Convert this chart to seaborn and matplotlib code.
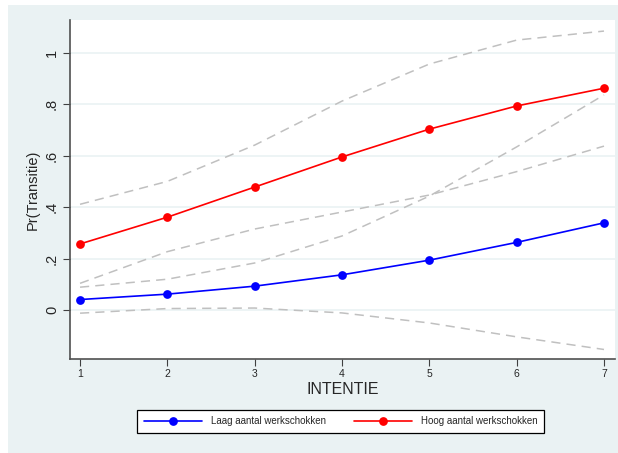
"""Predicted transition probability by intention, Stata-style margins plot."""

import matplotlib.pyplot as plt
import pandas as pd
import seaborn as sns
from matplotlib.patches import Rectangle

intentie = [1, 2, 3, 4, 5, 6, 7]

laag = [0.041, 0.062, 0.093, 0.137, 0.194, 0.263, 0.339]
laag_hi = [0.089, 0.120, 0.183, 0.288, 0.443, 0.634, 0.836]
laag_lo = [-0.012, 0.006, 0.008, -0.011, -0.050, -0.104, -0.153]

hoog = [0.257, 0.361, 0.478, 0.595, 0.703, 0.793, 0.862]
hoog_hi = [0.411, 0.500, 0.641, 0.812, 0.956, 1.049, 1.084]
hoog_lo = [0.104, 0.227, 0.315, 0.381, 0.447, 0.538, 0.637]

labels = ["Laag aantal werkschokken", "Hoog aantal werkschokken"]
yticks = [0, 0.2, 0.4, 0.6, 0.8, 1.0]
ytick_labels = ["0", ".2", ".4", ".6", ".8", "1"]

BG = "#EAF2F3"

df = pd.concat([
    pd.DataFrame({"INTENTIE": intentie, "pr": laag, "groep": labels[0]}),
    pd.DataFrame({"INTENTIE": intentie, "pr": hoog, "groep": labels[1]}),
])
ci = pd.concat([
    pd.DataFrame({"INTENTIE": intentie, "pr": laag_hi, "band": "laag_hi"}),
    pd.DataFrame({"INTENTIE": intentie, "pr": laag_lo, "band": "laag_lo"}),
    pd.DataFrame({"INTENTIE": intentie, "pr": hoog_hi, "band": "hoog_hi"}),
    pd.DataFrame({"INTENTIE": intentie, "pr": hoog_lo, "band": "hoog_lo"}),
])

sns.set_style("white")
plt.rcParams["font.family"] = ["Liberation Sans", "DejaVu Sans"]

fig = plt.figure(figsize=(6.18, 4.53), dpi=100, facecolor="white")
fig.patches.append(Rectangle((8 / 618, 0), 610 / 618, 1 - 5 / 453,
                             transform=fig.transFigure, facecolor=BG,
                             edgecolor="none", zorder=-10))
ax = fig.add_axes([70 / 618, 1 - 359 / 453, 545 / 618, 339 / 453])
ax.set_facecolor("white")

for val in yticks:
    ax.axhline(val, color=BG, lw=1.2, zorder=0)

sns.lineplot(data=ci, x="INTENTIE", y="pr", units="band", estimator=None,
             color="#C0C0C0", lw=1.1, dashes=False, ax=ax, zorder=1,
             linestyle=(0, (6, 4)))
sns.lineplot(data=df, x="INTENTIE", y="pr", hue="groep",
             palette={labels[0]: "#0000FF", labels[1]: "#FF0000"},
             marker="o", markersize=6.3, markeredgewidth=0, lw=1.2,
             ax=ax, zorder=3, legend=False)

ax.set_xlim(0.885, 7.126)
ax.set_ylim(-0.19, 1.127)
ax.set_xticks(intentie)
ax.set_yticks(yticks)
ax.set_yticklabels(ytick_labels, rotation=90, va="center")
ax.tick_params(axis="y", length=5, width=0.8, color="#404040",
               labelsize=10.5, pad=3, left=True)
ax.tick_params(axis="x", length=5, width=0.8, color="#404040",
               labelsize=7.5, pad=2, bottom=True)
for side in ["top", "right"]:
    ax.spines[side].set_visible(False)
for side in ["left", "bottom"]:
    ax.spines[side].set_color("#505050")
    ax.spines[side].set_linewidth(1.2)

ax.set_xlabel("INTENTIE", fontsize=11.5, labelpad=2)
ax.set_ylabel("Pr(Transitie)", fontsize=10.5, labelpad=4)

handles = [
    plt.Line2D([], [], color="#0000FF", lw=1.2, marker="o", markersize=6.3,
               markeredgewidth=0),
    plt.Line2D([], [], color="#FF0000", lw=1.2, marker="o", markersize=6.3,
               markeredgewidth=0),
]
leg = fig.legend(handles, labels, ncol=2, loc="center",
                 bbox_to_anchor=(340.5 / 618, 1 - 421.5 / 453),
                 fontsize=7, frameon=True, fancybox=False,
                 handlelength=6.0, handletextpad=0.9, columnspacing=2.9,
                 borderpad=0.7, borderaxespad=0, framealpha=1)
leg.get_frame().set_edgecolor("black")
leg.get_frame().set_linewidth(0.9)

fig.savefig("out.png", dpi=100, facecolor="white")
